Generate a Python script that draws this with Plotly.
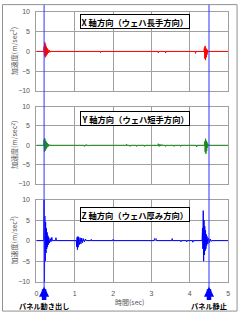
import plotly.graph_objects as go

# ---- data ----
x_t = [0, 0.19, 0.20, 0.21, 0.22, 0.23, 0.24, 0.25, 0.26, 0.27, 0.28, 0.29, 0.30, 0.32, 0.34, 0.36, 0.38, 0.40,
       1.66, 1.67, 1.68, 3.17, 3.18, 3.19, 3.36, 3.37, 3.38, 4.14, 4.15, 4.16,
       4.37, 4.38, 4.39, 4.40, 4.41, 4.42, 4.43, 4.44, 4.45, 4.46, 4.47, 4.48, 5]
x_v = [0, 0, 1.2, -1.0, 2.3, -1.5, 1.8, -1.2, 1.2, -0.9, 0.8, -0.6, 0.5, -0.4, 0.3, -0.2, 0.1, 0,
       0, -0.3, 0, 0, -0.4, 0, 0, -0.4, 0, 0, -0.5, 0,
       0, 1.0, -1.8, 1.4, -2.2, 0.8, -1.5, 0.6, -0.8, 0.3, -0.2, 0, 0]

y_t = [0, 0.19, 0.20, 0.21, 0.22, 0.23, 0.24, 0.25, 0.26, 0.27, 0.28, 0.30, 0.32, 0.34, 0.36, 0.38,
       1.24, 1.25, 1.26, 1.29, 1.30, 1.31, 1.34, 1.35, 1.36, 1.39, 1.40, 1.41,
       2.34, 2.35, 2.36, 2.43, 2.44, 2.45, 2.60, 2.61, 2.62, 2.81, 2.82, 2.83, 2.98, 2.99, 3.00,
       3.17, 3.18, 3.20, 3.22, 3.24, 3.27, 3.28, 3.36, 3.37, 3.38, 3.45, 3.46, 3.47, 3.58, 3.59, 3.60,
       3.75, 3.76, 3.77, 4.17, 4.18, 4.19,
       4.38, 4.39, 4.40, 4.41, 4.42, 4.43, 4.44, 4.45, 4.46, 4.47, 4.48, 5]
y_v = [0, 0, 1.5, -1.7, 1.8, -1.4, 1.2, -1.0, 0.9, -0.7, 0.6, -0.4, 0.3, -0.2, 0.1, 0,
       0, -0.3, 0, 0, 0.2, 0, 0, -0.2, 0, 0, -0.2, 0,
       0, 0.3, 0, 0, -0.3, 0, 0, -0.3, 0, 0, -0.3, 0, 0, -0.2, 0,
       0, 0.4, -0.3, 0.3, -0.2, 0.2, 0, 0, -0.3, 0, 0, -0.2, 0, 0, -0.3, 0,
       0, -0.3, 0, 0, -0.4, 0,
       0, 1.0, -1.8, 1.7, -2.2, 1.2, -1.5, 0.8, -0.6, 0.3, 0, 0]

z_t = [0, 0.19, 0.20, 0.21, 0.22, 0.23, 0.24, 0.25, 0.26, 0.27, 0.28, 0.29, 0.30, 0.31, 0.32, 0.34, 0.36,
       0.38, 0.40, 0.42, 0.50, 0.51, 0.52,
       1.04, 1.05, 1.06, 1.07, 1.08, 1.09, 1.10, 1.12, 1.14, 1.16, 1.18, 1.20, 1.22, 1.25, 1.28, 1.30,
       1.42, 1.43, 1.44, 1.99, 2.00, 2.01,
       3.07, 3.08, 3.10, 3.12, 3.13, 3.53, 3.54, 3.55, 3.76, 3.77, 3.78, 3.91, 3.92, 3.93, 4.07, 4.08, 4.09,
       4.32, 4.33, 4.34, 4.35, 4.36, 4.37, 4.38, 4.39, 4.40, 4.41, 4.42, 4.43, 4.44, 4.45, 4.47, 4.49,
       4.51, 4.53, 4.56, 4.58, 5]
z_v = [0, 0, 12, -11, 6, -5, 4.5, -3, 3, -2, 2, -1.5, 1.2, -1.0, 0.8, -0.6, 0.5,
       -0.3, 0.8, 0, 0, 0.7, 0,
       0, -1.5, 0.8, -2.2, 1.0, -1.6, 0.9, -1.0, 0.7, -0.8, 0.6, -0.5, 0.5, -0.3, 0.4, 0,
       0, 0.3, 0, 0, 0.3, 0,
       0, 0.5, 0.3, 0.5, 0, 0, 0.5, 0, 0, -0.3, 0, 0, -0.3, 0, 0, -0.4, 0,
       0, 3, -2, 7.3, -5, 5, -3.5, 3.5, -2.5, 2.5, -2, 1.5, -1.2, 1.0, -0.8, 0.6,
       -0.5, 0.4, -0.2, 0, 0]

panel_titles = ["X 軸方向（ウェハ長手方向）", "Y 軸方向（ウェハ短手方向）", "Z 軸方向（ウェハ厚み方向）"]
y_ticks = [-10, -5, 0, 5, 10]
x_ticks = [0, 1, 2, 3, 4, 5]
y_title = "加速度(m/sec<sup>2</sup>)"
x_title = "時間(sec)"
events_t = [0.2, 4.5]
event_labels = ["パネル動き出し", "パネル静止"]
colors = ["#ff0000", "#1a8c1a", "#0000ff"]

W, H = 240, 315
def py(pix):
    return 1 - pix / H

x_dom = [35 / W, 230 / W]
y_doms = [[py(89), py(8)], [py(184), py(105)], [py(284), py(200)]]

fig = go.Figure()
series = [(x_t, x_v), (y_t, y_v), (z_t, z_v)]
for i, (t, v) in enumerate(series):
    sfx = "" if i == 0 else str(i + 1)
    fig.add_trace(go.Scatter(x=t, y=v, mode="lines", line=dict(color=colors[i], width=1),
                             xaxis="x" + sfx, yaxis="y" + sfx, showlegend=False))

grid = "#a0a0a0"
tickfont = dict(family="Liberation Sans, Arial", size=7, color="#555555")
layout = dict(width=W, height=H, margin=dict(l=0, r=0, t=0, b=0),
              paper_bgcolor="white", plot_bgcolor="white", showlegend=False)
for i in range(3):
    sfx = "" if i == 0 else str(i + 1)
    layout["xaxis" + sfx] = dict(domain=x_dom, range=[0, 5], anchor="y" + sfx,
                                 tickvals=x_ticks, showticklabels=(i == 2), ticks="",
                                 showgrid=True, gridcolor=grid, gridwidth=1,
                                 showline=True, linecolor=grid, mirror=True, zeroline=False,
                                 tickfont=tickfont, ticklabelstandoff=5)
    layout["yaxis" + sfx] = dict(domain=y_doms[i], range=[-10, 10], anchor="x" + sfx,
                                 tickvals=y_ticks, ticks="", showgrid=True, gridcolor=grid,
                                 gridwidth=1, showline=True, linecolor=grid, mirror=True,
                                 zeroline=False, tickfont=tickfont, ticklabelstandoff=4)
fig.update_layout(**layout)

ann = []
box_tops = [10, 109, 208]
for i in range(3):
    ann.append(dict(text="<b>" + panel_titles[i] + "</b>", xref="paper", yref="paper", x=135 / W,
                    y=py(box_tops[i]), xanchor="center", yanchor="top", showarrow=False,
                    font=dict(family="Noto Sans CJK JP", size=8.3, color="black"),
                    bgcolor="white", bordercolor="black", borderwidth=1, borderpad=0.5))
    cy = (y_doms[i][0] + y_doms[i][1]) / 2
    ann.append(dict(text=y_title, xref="paper", yref="paper", x=12 / W, y=cy, textangle=-90,
                    xanchor="center", yanchor="middle", showarrow=False,
                    font=dict(family="Noto Sans CJK JP", size=7, color="#555555")))
ann.append(dict(text=x_title, xref="paper", yref="paper", x=130 / W, y=py(305), xanchor="center",
                yanchor="middle", showarrow=False,
                font=dict(family="Noto Sans CJK JP", size=7, color="#555555")))
for t, lab in zip(events_t, event_labels):
    ann.append(dict(x=t, y=py(289), xref="x3", yref="paper", ax=0, ay=15,
                    showarrow=True, arrowhead=2, arrowsize=0.45, arrowwidth=4.5, arrowcolor="#0000ff", text=""))
    ann.append(dict(text="<b>" + lab + "</b>", x=t, y=py(309), xref="x3", yref="paper", xanchor="center",
                    yanchor="middle", showarrow=False,
                    font=dict(family="Noto Sans CJK JP", size=7.2, color="black")))
fig.update_layout(annotations=ann)

shapes = []
for t in events_t:
    shapes.append(dict(type="line", xref="x3", yref="paper", x0=t, x1=t, y0=py(290), y1=1,
                       line=dict(color="#3333ff", width=1)))
shapes.append(dict(type="rect", xref="paper", yref="paper", x0=0.002, x1=0.996, y0=0.003, y1=0.998,
                   line=dict(color="#909090", width=1)))
fig.update_layout(shapes=shapes)

fig.write_html("out.html")
